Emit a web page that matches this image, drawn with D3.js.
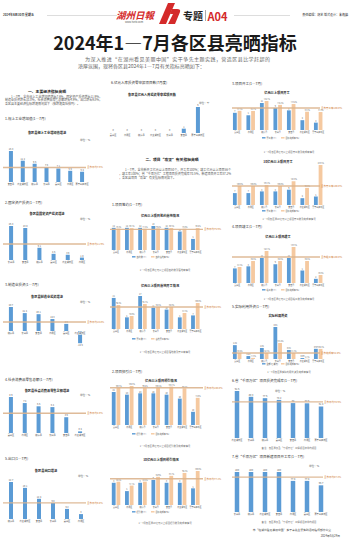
<!DOCTYPE html>
<html lang="zh-CN">
<head>
<meta charset="UTF-8">
<title>2024年1—7月各区县亮晒指标</title>
<script src="https://d3js.org/d3.v7.min.js"></script>
<style>
  body { margin: 0; background: #fff; }
  svg { display: block; font-family: "Noto Sans CJK SC", "Noto Sans", sans-serif; }
</style>
</head>
<body>
<svg id="page" width="350" height="543"></svg>
<script>
// ---------- data: 一、主要经济指标 ----------
const indCats = ["安吉县", "南太湖新区", "德清县", "长兴县", "吴兴区", "南浔区", "莫干山高新区"];
const indVals = [16.3, 11.2, 9.6, 7.8, 7.1, 5.9, 5.4];
const indAvg = 7.6;

const fixCats = ["长兴县", "安吉县", "德清县", "吴兴区", "南太湖新区", "南浔区"];
const fixVals = [25.3, 23.8, 9.1, 4.6, 3.9, 1.8];
const fixAvg = 11.9;

const mfgCats = ["德清县", "长兴县", "安吉县", "南浔区", "吴兴区", "南太湖新区"];
const mfgVals = [28.7, 21.4, 20.1, 14.3, 8.5, -14.6];
const mfgAvg = 10.8;

const retCats = ["吴兴区", "南浔区", "德清县", "长兴县", "安吉县", "南太湖新区"];
const retVals = [8.9, 7.4, 6.6, 6.4, 3.9, 0.4];
const retAvg = 4.9;

const expCats = ["德清县", "南太湖新区", "安吉县", "长兴县", "吴兴区", "南浔区"];
const expVals = [22.7, 19.1, 12.4, 9.8, 6.2, 3.0];
const expAvg = 9.9;

const zeroCats = ["吴兴区", "南浔区", "德清县", "南太湖新区", "长兴县", "安吉县", "莫干山高新区"];
const zeroVals = [0, 0, 0, 0, 0, 1, 6];

// ---------- data: 二、项目"攻坚" ----------
const groupCats = ["吴兴区", "南浔区", "德清县", "长兴县", "安吉县", "南太湖新区", "莫干山高新区"];

const signCount = [12, 12, 12, 13, 12, 10, 6];
const signRate = [78.3, 80.1, 77.6, 79.2, 80.5, 78.0, 80.2];
const signAvg = 75.6;

const landCount = [16, 6, 17, 11, 10, 6, 7];
const landRate = [92.3, 50.0, 96.1, 84.6, 84.8, 61.5, 100.0];
const landAvg = 84.6;

const leadCount = [25, 23, 24, 24, 23, 20, 10];
const leadRate = [100.5, 104.8, 99.2, 100.6, 103.1, 98.5, 73.0];
const leadAvg = 100.0;

const reserveCount = [8, 5, 8, 9, 8, 8, 6];
const reserveRate = [68.6, 57.1, 68.6, 82.9, 85.7, 94.3, 100.0];
const reserveAvg = 77.1;

const startCount = [7, 6, 11, 9, 8, 4, 3];
const startRate = [87.5, 86.7, 132.1, 114.3, 118.2, 83.3, 81.8];
const startAvg = 100.0;

const start10Count = [7, 7, 8, 8, 9, 4, 5];
const start10Rate = [100.0, 100.0, 105.3, 100.0, 125.0, 90.0, 210.5];
const start10Avg = 100.0;

const doneCount = [7, 8, 12, 9, 12, 6, 2];
const doneRate = [61.5, 84.6, 123.1, 84.6, 138.5, 84.6, 30.8];
const doneAvg = 100.0;

const fdiAmount = [1.32, 0.28, 1.05, 3.05, 0.86, 0.09, 0.97];
const fdiRate = [60.2, 11.8, 62.5, 165.4, 61.3, 2.1, 104.3];
const fdiAvg = 62.8;

const qxCats = ["南太湖新区", "长兴县", "德清县", "吴兴区", "安吉县", "南浔区", "莫干山高新区"];
const qxVals = [91.6, 80.3, 77.6, 74.2, 68.0, 67.6, 61.4];
const qxAvg = 70.5;

const newCats = ["长兴县", "德清县", "南太湖新区", "安吉县", "南浔区", "吴兴区", "莫干山高新区"];
const newVals = [100, 100, 100, 100, 77.8, 77.8, 66.7];
const newAvg = 87.2;

// ---------- drawing ----------
const svg = d3.select("#page");
const BLUE = "#5b9bd5", ORANGE = "#f5c9a0", AVG = "#dcb48e", AVG_TXT = "#d07a33";

function txt(x, y, s, size, opt = {}) {
  return svg.append("text")
    .attr("x", x).attr("y", y)
    .attr("font-size", size)
    .attr("fill", opt.fill || "#333")
    .attr("font-weight", opt.bold ? 700 : 400)
    .attr("text-anchor", opt.anchor || "start")
    .text(s);
}

// simple paragraph wrap, justified lines
function para(str, x, y, width, size, lh, indent, fill) {
  const cw = c => c.charCodeAt(0) > 255 ? size : size * 0.56;
  const lines = [];
  let cur = "", w = indent;
  for (const c of str) {
    if (w + cw(c) > width) { lines.push(cur); cur = ""; w = 0; }
    cur += c; w += cw(c);
  }
  lines.push(cur);
  lines.forEach((s, i) => {
    const x0 = x + (i === 0 ? indent : 0);
    const t = svg.append("text").attr("x", x0).attr("y", y + i * lh)
      .attr("font-size", size).attr("fill", fill || "#555").text(s);
    if (i < lines.length - 1) t.attr("textLength", x + width - x0).attr("lengthAdjust", "spacing");
  });
}

function avgLine(y, x1, x2, label) {
  svg.append("line").attr("x1", x1).attr("x2", x2).attr("y1", y).attr("y2", y)
    .attr("stroke", AVG).attr("stroke-width", 1.4).attr("opacity", 0.9);
  txt(x2 + 1, y + 0.9, label, 2.5, { fill: AVG_TXT });
}

// single-series bar chart
function bars(o) {
  const data = o.cats.map((c, i) => ({ c, v: o.vals[i] }));
  const x = d3.scalePoint().domain(o.cats).range(o.xr).padding(0.5);
  const y = d3.scaleLinear().domain([0, d3.max(o.vals)]).range([o.base, o.base - o.h]);
  const g = svg.append("g");
  g.selectAll("rect").data(data.filter(d => d.v !== 0)).join("rect")
    .attr("x", d => x(d.c) - o.bw / 2).attr("width", o.bw)
    .attr("y", d => Math.min(y(d.v), y(0)))
    .attr("height", d => Math.max(Math.abs(y(d.v) - y(0)), 0.8))
    .attr("fill", BLUE);
  g.selectAll("text.v").data(data).join("text").attr("class", "v")
    .attr("x", d => x(d.c)).attr("text-anchor", "middle")
    .attr("y", d => d.v < 0 ? y(d.v) + 3 : Math.min(y(d.v), y(0) - 0.8) - 1)
    .attr("font-size", o.vs || 2.3).attr("fill", "#555")
    .text(d => o.fmt ? o.fmt(d.v) : d.v);
  if (o.avg != null) avgLine(y(o.avg), o.lx[0], o.lx[1], o.avgLabel);
  g.selectAll("text.c").data(data).join("text").attr("class", "c")
    .attr("x", d => x(d.c)).attr("y", o.base + 3).attr("text-anchor", "middle")
    .attr("font-size", 2.2).attr("fill", "#444")
    .attr("stroke", "#fff").attr("stroke-width", 0.6).attr("paint-order", "stroke")
    .text(d => d.c);
}

// two-series grouped bar chart (count + rate)
function grouped(o) {
  const x = d3.scalePoint().domain(groupCats).range(o.xr).padding(0.5);
  const yA = d3.scaleLinear().domain([0, d3.max(o.a)]).range([o.base, o.base - o.hA]);
  const yB = d3.scaleLinear().domain([0, d3.max(o.b)]).range([o.base, o.base - o.hB]);
  const data = groupCats.map((c, i) => ({ c, a: o.a[i], b: o.b[i] }));
  const g = svg.append("g");
  g.selectAll("rect.a").data(data).join("rect").attr("class", "a")
    .attr("x", d => x(d.c) - 4.3).attr("width", 3.8)
    .attr("y", d => yA(d.a)).attr("height", d => o.base - yA(d.a)).attr("fill", BLUE);
  g.selectAll("rect.b").data(data).join("rect").attr("class", "b")
    .attr("x", d => x(d.c) + 0.4).attr("width", 3.8)
    .attr("y", d => yB(d.b)).attr("height", d => o.base - yB(d.b)).attr("fill", ORANGE);
  g.selectAll("text.a").data(data).join("text").attr("class", "a")
    .attr("x", d => x(d.c) - 2.4).attr("y", d => yA(d.a) - 0.8).attr("text-anchor", "middle")
    .attr("font-size", 2).attr("fill", "#555").text(d => d.a);
  g.selectAll("text.b").data(data).join("text").attr("class", "b")
    .attr("x", d => x(d.c) + 2.6).attr("y", d => yB(d.b) - 0.8).attr("text-anchor", "middle")
    .attr("font-size", 1.8).attr("fill", "#555").text(d => d.b.toFixed(1) + "%");
  avgLine(yB(o.avg), o.lx[0], o.lx[1], o.avgLabel);
  g.selectAll("text.c").data(data).join("text").attr("class", "c")
    .attr("x", d => x(d.c)).attr("y", o.base + 2.8).attr("text-anchor", "middle")
    .attr("font-size", 2).attr("fill", "#444").text(d => d.c);
  // legend
  const lx = o.legendX;
  svg.append("rect").attr("x", lx).attr("y", o.legendY - 1.4).attr("width", 3.5).attr("height", 1.4).attr("fill", BLUE);
  txt(lx + 4.5, o.legendY, o.la, 2.1, { fill: "#555" });
  svg.append("rect").attr("x", lx + 19).attr("y", o.legendY - 1.4).attr("width", 3.5).attr("height", 1.4).attr("fill", ORANGE);
  txt(lx + 23.5, o.legendY, o.lb, 2.1, { fill: "#555" });
  txt(o.noteX, o.noteY, o.note, 2.4, { fill: "#666", anchor: "middle" });
}

// ---------- masthead ----------
txt(3, 16, "2024年8月30日  星期五", 3, { fill: "#333", bold: true });
svg.append("line").attr("x1", 47).attr("x2", 117).attr("y1", 15.5).attr("y2", 15.5).attr("stroke", "#bbb").attr("stroke-width", 0.5);
svg.append("line").attr("x1", 234).attr("x2", 290).attr("y1", 15.5).attr("y2", 15.5).attr("stroke", "#bbb").attr("stroke-width", 0.5);
txt(135, 18.5, "湖州日報", 9.5, { fill: "#d42a2a", anchor: "middle", bold: true }).attr("font-style", "italic");
txt(134, 23, "www.hzrb.com", 2.6, { fill: "#555", anchor: "middle" });
svg.append("path").attr("d", "M159,24 L166,24 L175,3 L168,3 Z").attr("fill", "#d42a2a");
svg.append("path").attr("d", "M168,24 L175,24 L180,12 Q181,9 177,9 L172,9 L170,14 L173,14 Z").attr("fill", "#d42a2a");
txt(183, 20, "专题", 10, { fill: "#222", bold: true });
svg.append("line").attr("x1", 205.5).attr("x2", 205.5).attr("y1", 10).attr("y2", 21).attr("stroke", "#888").attr("stroke-width", 0.7);
txt(207.5, 20.5, "A04", 11, { fill: "#d42a2a", bold: true });
txt(348, 16, "责任编辑：胡艺  版式设计：朱逸婷", 3, { fill: "#333", anchor: "end" });

// ---------- title + intro ----------
txt(175, 49.5, "2024年1—7月各区县亮晒指标", 18, { fill: "#1a1a1a", bold: true, anchor: "middle" });
txt(85, 61, "为深入推进“在湖州看见美丽中国”实干争先主题实践，营造区县比学赶超的", 5, { fill: "#666" })
  .attr("textLength", 185).attr("lengthAdjust", "spacing");
txt(78, 68, "浓厚氛围，现将各区县2024年1—7月有关指标亮晒如下：", 5, { fill: "#666" });

// ---------- column 1 ----------
txt(47, 93, "一、主要经济指标亮晒", 3.8, { bold: true, anchor: "middle", fill: "#222" });
para("1—7月，全市规上工业增加值增长7.6%，固定资产投资增长11.9%，制造业投资增长10.8%，社会消费品零售总额增长4.9%，出口增长9.8%，各区县主要经济指标增速情况如下（按增速高低排列）。",
  5, 97.5, 97, 3, 3.6, 6, "#555");

txt(5, 120, "1.规上工业增加值(1—7月)", 3.5);
txt(47, 134, "各区县规上工业增加值增速", 3.2, { bold: true, anchor: "middle", fill: "#222" });
txt(80, 141, "单位：%", 2.6, { fill: "#555" });
bars({ cats: indCats, vals: indVals, xr: [5, 88], base: 182, h: 31, bw: 4,
  avg: indAvg, lx: [3, 86], avgLabel: "全市平均7.6%" });

txt(5, 204, "2.固定资产投资(1—7月)", 3.5);
txt(47, 215, "各区县固定资产投资增速", 3.2, { bold: true, anchor: "middle", fill: "#222" });
txt(80, 219.5, "单位：%", 2.6, { fill: "#555" });
bars({ cats: fixCats, vals: fixVals, xr: [4, 89], base: 260, h: 34, bw: 4,
  avg: fixAvg, lx: [3, 86], avgLabel: "全市平均11.9%" });

txt(5, 286, "3.制造业投资(1—7月)", 3.5);
txt(47, 297.5, "各区县制造业投资增速", 3.2, { bold: true, anchor: "middle", fill: "#222" });
txt(80, 303, "单位：%", 2.6, { fill: "#555" });
bars({ cats: mfgCats, vals: mfgVals, xr: [4, 87], base: 331, h: 24, bw: 4,
  avg: mfgAvg, lx: [3, 86], avgLabel: "全市平均10.8%" });

txt(5, 381, "4.社会消费品零售总额(1—7月)", 3.5);
txt(47, 391.5, "各区县社会消费品零售总额增速", 3.2, { bold: true, anchor: "middle", fill: "#222" });
txt(80, 396, "单位：%", 2.6, { fill: "#555" });
bars({ cats: retCats, vals: retVals, xr: [4, 87], base: 433, h: 36, bw: 4,
  avg: retAvg, lx: [3, 86], avgLabel: "全市平均4.9%" });

txt(5, 460, "5.出口(1—7月)", 3.5);
txt(46, 471.5, "各区县出口增速", 3.2, { bold: true, anchor: "middle", fill: "#222" });
txt(78, 477, "单位：%", 2.6, { fill: "#555" });
bars({ cats: expCats, vals: expVals, xr: [4, 88], base: 519, h: 37, bw: 4,
  avg: expAvg, lx: [3, 86], avgLabel: "全市平均9.8%" });

// ---------- column 2 ----------
txt(111, 84, "6.亿元入库投资零申报项目数(7月度)", 3.5);
txt(152, 96, "各区县亿元入库投资零申报项目数", 3.2, { bold: true, anchor: "middle", fill: "#222" });
txt(199, 104, "单位：个", 2.6, { fill: "#555" });
bars({ cats: zeroCats, vals: zeroVals, xr: [106, 205], base: 133, h: 26, bw: 4 });

txt(172, 161, "二、项目“攻坚”有关指标亮晒", 3.8, { bold: true, anchor: "middle", fill: "#222" });
para("1—7月，全市新开工亿元以上项目50个，开工率100%；竣工亿元以上项目56个，竣工率100%；省“千项万亿”工程项目投资完成率70.5%，新建项目开工率87.2%，各区县项目“攻坚”有关指标情况如下。",
  119, 171, 112, 3, 4, 6, "#555");

txt(112, 206, "1.项目签约(1—7月)", 3.5);
txt(160, 217, "亿元以上项目签约落地情况", 3.2, { bold: true, anchor: "middle", fill: "#222" });
grouped({ a: signCount, b: signRate, xr: [109.5, 202], base: 250, hA: 24, hB: 22,
  avg: signAvg, lx: [110, 203], avgLabel: "全市平均75.6%",
  legendX: 132, legendY: 257.5, la: "签约数(个)", lb: "签约落地率(%)",
  noteX: 165, noteY: 270.5, note: "1—7月各区县亿元以上项目签约数及落地率情况" });

txt(160, 287, "亿元以上项目落地开工情况", 3.2, { bold: true, anchor: "middle", fill: "#222" });
grouped({ a: landCount, b: landRate, xr: [109.5, 202], base: 329, hA: 33, hB: 26,
  avg: landAvg, lx: [110, 203], avgLabel: "全市平均84.6%",
  legendX: 132, legendY: 339.5, la: "开工数(个)", lb: "落地开工率(%)",
  noteX: 165, noteY: 352.5, note: "1—7月各区县亿元以上项目落地数及开工率情况" });

txt(112, 373, "2.项目招引(1—7月)", 3.5);
txt(161, 381.5, "亿元以上项目招引情况", 3.2, { bold: true, anchor: "middle", fill: "#222" });
grouped({ a: leadCount, b: leadRate, xr: [109.5, 202], base: 425, hA: 33, hB: 39,
  avg: leadAvg, lx: [110, 203], avgLabel: "全市平均100.0%",
  legendX: 132, legendY: 434.5, la: "招引数(个)", lb: "目标完成率(%)",
  noteX: 165, noteY: 446.5, note: "1—7月各区县亿元以上项目招引数及完成率情况" });

txt(161, 460.5, "10亿元以上项目招引情况", 3.2, { bold: true, anchor: "middle", fill: "#222" });
grouped({ a: reserveCount, b: reserveRate, xr: [109.5, 202], base: 505, hA: 25, hB: 34,
  avg: reserveAvg, lx: [110, 203], avgLabel: "全市平均77.1%",
  legendX: 132, legendY: 512.5, la: "招引数(个)", lb: "目标完成率(%)",
  noteX: 165, noteY: 524, note: "1—7月各区县10亿元以上项目招引数及完成率情况" });

// ---------- column 3 ----------
txt(232, 85, "3.项目开工(1—7月)", 3.5);
txt(277, 94, "亿元以上项目开工", 3.2, { bold: true, anchor: "middle", fill: "#222" });
grouped({ a: startCount, b: startRate, xr: [230.5, 325], base: 130, hA: 27, hB: 29,
  avg: startAvg, lx: [232, 320], avgLabel: "全市开工率100.0%",
  legendX: 262, legendY: 138.5, la: "开工数(个)", lb: "目标完成率(%)",
  noteX: 289, noteY: 152.5, note: "1—7月各区县亿元以上项目开工数及完成率情况" });

txt(278, 162.5, "10亿元以上项目开工", 3.2, { bold: true, anchor: "middle", fill: "#222" });
grouped({ a: start10Count, b: start10Rate, xr: [230.5, 325], base: 205, hA: 15.3, hB: 40,
  avg: start10Avg, lx: [232, 320], avgLabel: "全市开工率100.0%",
  legendX: 262, legendY: 211.5, la: "开工数(个)", lb: "目标完成率(%)",
  noteX: 289, noteY: 219.5, note: "1—7月各区县10亿元以上项目开工数及完成率情况" });

txt(232, 228, "4.项目竣工(1—7月)", 3.5);
txt(278, 238, "亿元以上项目竣工", 3.2, { bold: true, anchor: "middle", fill: "#222" });
grouped({ a: doneCount, b: doneRate, xr: [230.5, 325], base: 283, hA: 25, hB: 36,
  avg: doneAvg, lx: [232, 320], avgLabel: "全市竣工率100.0%",
  legendX: 262, legendY: 290.5, la: "竣工数(个)", lb: "目标完成率(%)",
  noteX: 289, noteY: 299.5, note: "1—7月各区县亿元以上项目竣工数及完成率情况" });

txt(232, 308, "5.实际利用外资(1—7月)", 3.5);
txt(278, 316.5, "实际利用外资", 3.2, { bold: true, anchor: "middle", fill: "#222" });
grouped({ a: fdiAmount, b: fdiRate, xr: [230.5, 325], base: 359, hA: 32, hB: 16,
  avg: fdiAvg, lx: [232, 320], avgLabel: "全市完成率62.8%",
  legendX: 262, legendY: 364.5, la: "金额(亿美元)", lb: "目标完成率(%)",
  noteX: 289, noteY: 372.5, note: "1—7月各区县实际利用外资及完成率情况" });

txt(232, 381.5, "6.省“千项万亿”项目投资完成率(1—7月)", 3.5);
txt(275, 391.5, "单位：%", 2.6, { fill: "#555" });
bars({ cats: qxCats, vals: qxVals, xr: [230, 328], base: 438, h: 47, bw: 4.5, vs: 2.4,
  avg: qxAvg, lx: [232, 323], avgLabel: "全市平均70.5%" });
txt(289, 448.5, "备注：各区县仅含“千项万亿”工程项目清单内项目", 2.4, { fill: "#666", anchor: "middle" });

txt(232, 458, "7.省“千项万亿”项目新建项目开工率(1—7月)", 3.5);
txt(309, 466.5, "单位：%", 2.6, { fill: "#555" });
bars({ cats: newCats, vals: newVals, xr: [230, 328], base: 512, h: 40, bw: 4.5, vs: 2.4,
  avg: newAvg, lx: [232, 323], avgLabel: "全市平均87.2%" });
txt(289, 522.5, "备注：各区县仅含“千项万亿”工程项目清单内项目", 2.4, { fill: "#666", anchor: "middle" });

txt(292, 530.5, "市“在湖州看见美丽中国”实干争先主题实践活动指挥部办公室", 2.8, { fill: "#444", anchor: "middle" });
txt(340, 536.5, "2024年8月29日", 2.8, { fill: "#444", anchor: "end" });
</script>
</body>
</html>
